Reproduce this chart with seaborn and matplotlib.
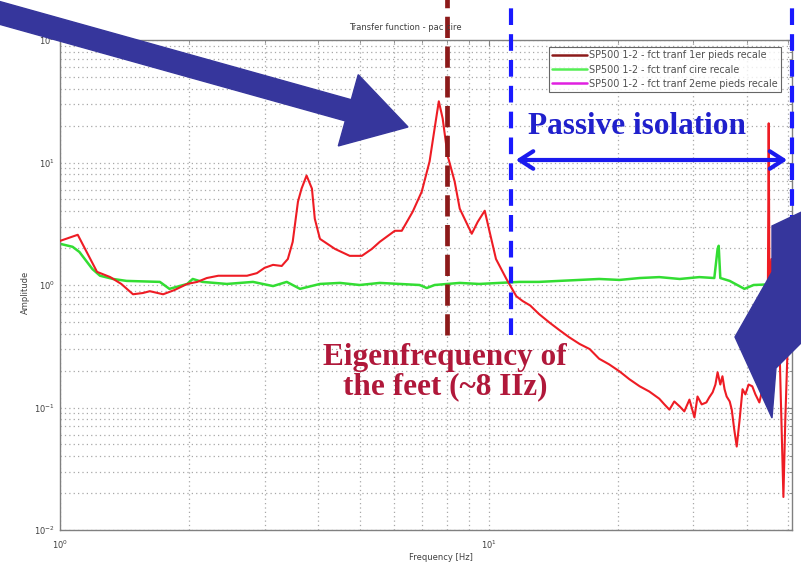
import numpy as np
import pandas as pd
import matplotlib
matplotlib.use("Agg")
import matplotlib.pyplot as plt
import seaborn as sns
from matplotlib.lines import Line2D
from matplotlib.patches import FancyArrow, Polygon
from matplotlib.transforms import IdentityTransform

# ---------------- data ----------------
red_freq = [1.00, 1.10, 1.22, 1.31, 1.39, 1.48, 1.56, 1.62, 1.74, 1.85, 1.98, 2.09,
            2.20, 2.34, 2.53, 2.73, 2.88, 3.00, 3.14, 3.29, 3.40, 3.49, 3.59, 3.66,
            3.76, 3.87, 3.93, 4.04, 4.38, 4.74, 5.06, 5.34, 5.57, 6.04, 6.27, 6.65,
            6.98, 7.28, 7.48, 7.65, 7.81, 8.02, 8.33, 8.56, 9.13, 9.43, 9.79, 10.05,
            10.4, 11.0, 11.6, 12.0, 12.5, 13.1, 13.9, 14.6, 15.4, 16.3, 17.2, 18.1,
            19.1, 20.2, 21.3, 22.5, 23.7, 25.0, 25.7, 26.4, 27.1, 27.9, 28.6, 29.4,
            30.2, 30.7, 31.4, 32.2, 32.7, 33.3, 33.8, 34.2, 34.7, 35.1, 35.5, 35.9,
            36.5, 36.9, 37.4, 37.9, 38.5, 39.1, 39.7, 40.4, 41.2, 41.9, 42.8, 43.5,
            44.2, 44.7, 45.0, 45.2, 45.7, 46.4, 47.2, 47.9, 48.7, 49.2, 49.8, 50.0]
red_amp = [2.29, 2.57, 1.28, 1.16, 1.02, 0.84, 0.86, 0.89, 0.84, 0.91, 1.02, 1.06,
           1.14, 1.19, 1.19, 1.19, 1.25, 1.38, 1.46, 1.43, 1.63, 2.25, 4.79, 6.12,
           7.82, 6.12, 3.47, 2.38, 1.97, 1.73, 1.73, 1.97, 2.25, 2.77, 2.77, 3.97,
           5.78, 10.2, 19.0, 31.6, 22.9, 11.4, 6.99, 4.20, 2.62, 3.28, 4.04, 2.72,
           1.63, 1.12, 0.81, 0.74, 0.68, 0.58, 0.49, 0.43, 0.375, 0.33, 0.30, 0.25,
           0.225, 0.197, 0.17, 0.149, 0.135, 0.118, 0.106, 0.096, 0.112, 0.102, 0.093, 0.116,
           0.083, 0.123, 0.106, 0.110, 0.121, 0.133, 0.154, 0.194, 0.154, 0.180, 0.141, 0.123,
           0.112, 0.096, 0.066, 0.048, 0.080, 0.141, 0.128, 0.154, 0.149, 0.128, 0.110, 0.141,
           0.123, 0.170, 20.9, 0.77, 1.63, 0.93, 1.35, 0.17, 0.0186, 0.08, 0.30, 0.36]

green_freq = [1.00, 1.07, 1.11, 1.19, 1.24, 1.33, 1.43, 1.71, 1.80, 1.98, 2.04, 2.15,
              2.45, 2.82, 3.14, 3.38, 3.63, 4.04, 4.50, 5.00, 5.57, 6.20, 6.90, 7.17,
              7.48, 8.56, 9.50, 10.6, 11.8, 13.1, 14.6, 16.3, 18.1, 20.2, 22.5, 25.0,
              27.9, 31.0, 33.6, 34.2, 34.4, 34.7, 36.5, 39.5, 41.5, 47.6, 50.0]
green_amp = [2.17, 2.05, 1.86, 1.35, 1.19, 1.12, 1.08, 1.06, 0.93, 1.02, 1.12, 1.06,
             1.02, 1.06, 0.98, 1.06, 0.93, 1.02, 1.04, 1.00, 1.04, 1.02, 1.00, 0.945,
             1.00, 1.04, 1.02, 1.04, 1.06, 1.06, 1.08, 1.10, 1.12, 1.10, 1.14, 1.16,
             1.12, 1.16, 1.14, 1.97, 2.09, 1.14, 1.08, 0.93, 1.00, 1.02, 1.02]

legend_labels = ["SP500 1-2 - fct tranf 1er pieds recale",
                 "SP500 1-2 - fct tranf cire recale",
                 "SP500 1-2 - fct tranf 2eme pieds recale"]
legend_colors = ["#8c1a1a", "#55ee55", "#e020e0"]
title_text = "Transfer function - pac cire"
x_label = "Frequency [Hz]"
y_label = "Amplitude"
eigen_freq = 8.0
passive_start = 11.25
passive_end = 51.0

W, H = 801, 563

sns.set_style("white")
plt.rcParams['font.family'] = ['DejaVu Sans']
plt.rcParams['mathtext.default'] = 'regular'

fig = plt.figure(figsize=(W / 100, H / 100), dpi=100)
ax = fig.add_axes([60 / W, 33 / H, 732 / W, 490 / H])
ax.set_xscale('log')
ax.set_yscale('log')

df_red = pd.DataFrame({'f': red_freq, 'a': red_amp})
df_green = pd.DataFrame({'f': green_freq, 'a': green_amp})
sns.lineplot(data=df_red, x='f', y='a', ax=ax, color='#ee1c24', lw=1.5,
             sort=False, estimator=None, zorder=3)
sns.lineplot(data=df_green, x='f', y='a', ax=ax, color='#33dd33', lw=1.8,
             sort=False, estimator=None, zorder=2)

ax.set_xlim(1, 51)
ax.set_ylim(1e-2, 1e2)
ax.set_xlabel('')
ax.set_ylabel('')
ax.grid(True, which='both', linestyle=(0, (1, 2.5)), color='#a8a8a8', lw=0.9)
for s in ax.spines.values():
    s.set_color('#808080')
    s.set_linewidth(1.0)
ax.tick_params(which='both', direction='in', top=True, right=True,
               colors='#808080', labelcolor='#404040', labelsize=6)
ax.tick_params(which='major', length=4)
ax.tick_params(which='minor', length=2)
ax.tick_params(axis='x', pad=6)

handles = [Line2D([], [], color=c, lw=1.8) for c in legend_colors]
leg = ax.legend(handles, legend_labels, loc='upper right', bbox_to_anchor=(0.985, 0.986),
                fontsize=6.9, frameon=True, fancybox=False, edgecolor='#404040',
                handlelength=3.6, handletextpad=0.25, labelspacing=0.45, borderpad=0.35,
                borderaxespad=0)
leg.get_frame().set_linewidth(0.8)
for t in leg.get_texts():
    t.set_color('#505050')

fig.text(405 / W, 1 - 27 / H, title_text, ha='center', va='center', fontsize=6, color='#404040')
fig.text(441 / W, 1 - 557 / H, x_label, ha='center', va='center', fontsize=6, color='#404040')
fig.text(25 / W, 1 - 292 / H, y_label, ha='center', va='center', fontsize=6,
         color='#404040', rotation=90)

# dashed vertical markers
ymin_f = (530 - 335) / 490
ymax_f = (530 - 0) / 490 + 0.01
ax.axvline(eigen_freq, ymin=ymin_f, ymax=ymax_f, clip_on=False, color='#8c1a1a',
           lw=3.4, dashes=(4.5, 1.8), zorder=6)
ax.axvline(passive_start, ymin=ymin_f, ymax=ymax_f, clip_on=False, color='#1a1aff',
           lw=3.0, dashes=(4.0, 2.2), zorder=6)
ax.axvline(passive_end, ymin=ymin_f, ymax=ymax_f, clip_on=False, color='#1a1aff',
           lw=3.0, dashes=(4.0, 2.2), zorder=6)

# double arrow
fig.add_artist(matplotlib.patches.FancyArrowPatch(
    (513, H - 160), (790, H - 160), transform=IdentityTransform(),
    arrowstyle='<->,head_length=0.7,head_width=0.45', mutation_scale=14,
    color='#1a1aee', lw=3.0, zorder=7))

fig.text(637 / W, 1 - 126 / H, "Passive isolation", ha='center', va='center',
         fontsize=22.5, fontweight='bold', family='Liberation Serif', color='#2020cc', zorder=8)
fig.text(445 / W, 1 - 372 / H, "Eigenfrequency of\nthe feet (~8 IIz)", ha='center',
         va='center', multialignment='center', linespacing=1.0,
         fontsize=22.5, fontweight='bold', family='Liberation Serif', color='#b0183a', zorder=8)

navy = '#36369c'
arr = FancyArrow(-30, H - 4.6, 438, -122.4, width=22, head_width=74, head_length=62,
                 length_includes_head=True, color=navy, transform=IdentityTransform(),
                 zorder=9)
fig.add_artist(arr)
poly_px = [(810, 208), (772, 226), (772, 272), (735, 337), (772, 418), (776, 368), (810, 334)]
poly = Polygon([(x, H - y) for x, y in poly_px], closed=True, color=navy,
               transform=IdentityTransform(), zorder=9)
fig.add_artist(poly)

fig.savefig('out.png', dpi=100)
